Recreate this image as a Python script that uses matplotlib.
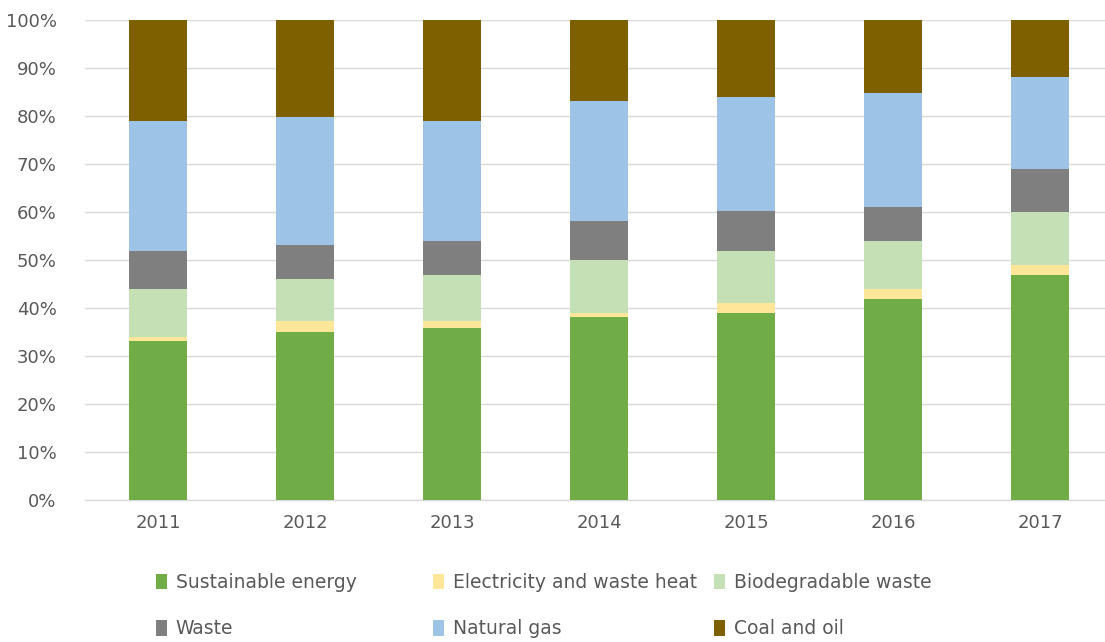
import matplotlib.pyplot as plt
import numpy as np
from matplotlib.patches import Patch

years = ['2011', '2012', '2013', '2014', '2015', '2016', '2017']
sustainable = [33.1, 35.1, 35.9, 38.1, 38.9, 41.8, 46.8]
electricity = [0.8, 2.1, 1.3, 0.8, 2.1, 2.1, 2.1]
biodegradable = [10.0, 8.8, 9.6, 11.2, 10.8, 10.0, 11.2]
waste = [8.0, 7.1, 7.2, 8.0, 8.4, 7.1, 8.8]
natural_gas = [27.1, 26.6, 25.0, 25.0, 23.7, 23.8, 19.2]
coal_oil = [21.0, 20.3, 21.0, 16.9, 16.1, 15.2, 11.9]

series = [
    ('Sustainable energy', sustainable, '#70AD47'),
    ('Electricity and waste heat', electricity, '#FFE699'),
    ('Biodegradable waste', biodegradable, '#C5E0B4'),
    ('Waste', waste, '#7F7F7F'),
    ('Natural gas', natural_gas, '#9DC3E6'),
    ('Coal and oil', coal_oil, '#7F6000'),
]

plt.rcParams['font.family'] = ['DejaVu Sans']

fig = plt.figure(figsize=(11.05, 6.42), dpi=100)
ax = fig.add_axes([84.5 / 1105, 142 / 642, 1 - 84.5 / 1105, 480 / 642])

x = np.arange(len(years))
bottom = np.zeros(len(years))
handles = []
for name, vals, col in series:
    vals = np.array(vals) / 100.0
    ax.bar(x, vals, 0.395, bottom=bottom, color=col, edgecolor='none', zorder=3)
    bottom += vals
    handles.append(Patch(facecolor=col, edgecolor='none', label=name))

ax.set_xlim(-0.5, 6.44)
ax.set_ylim(0, 1)
ax.set_yticks(np.arange(0, 1.01, 0.1))
ax.set_yticklabels([f'{int(round(v * 100))}%' for v in np.arange(0, 1.01, 0.1)])
ax.set_xticks(x)
ax.set_xticklabels(years)
ax.grid(axis='y', color='#D9D9D9', linewidth=1.0, zorder=0)
for s in ['top', 'right', 'left']:
    ax.spines[s].set_visible(False)
ax.spines['bottom'].set_color('#D9D9D9')
ax.spines['bottom'].set_linewidth(1.0)
ax.tick_params(length=0, labelsize=13, colors='#595959', pad=10)
ax.tick_params(axis='y', pad=20)

# legend: three columns placed like the original
col_x = [156, 433, 714]
for j in range(3):
    lg = fig.legend(handles=[handles[j], handles[j + 3]], loc='upper left',
                    bbox_to_anchor=(col_x[j] / 1105, 1 - 573 / 642),
                    frameon=False, fontsize=13.5, handlelength=0.6, handleheight=0.9,
                    handletextpad=0.45, labelspacing=1.45, borderpad=0, borderaxespad=0)
    for t in lg.get_texts():
        t.set_color('#595959')

fig.savefig('out.png', dpi=100)
